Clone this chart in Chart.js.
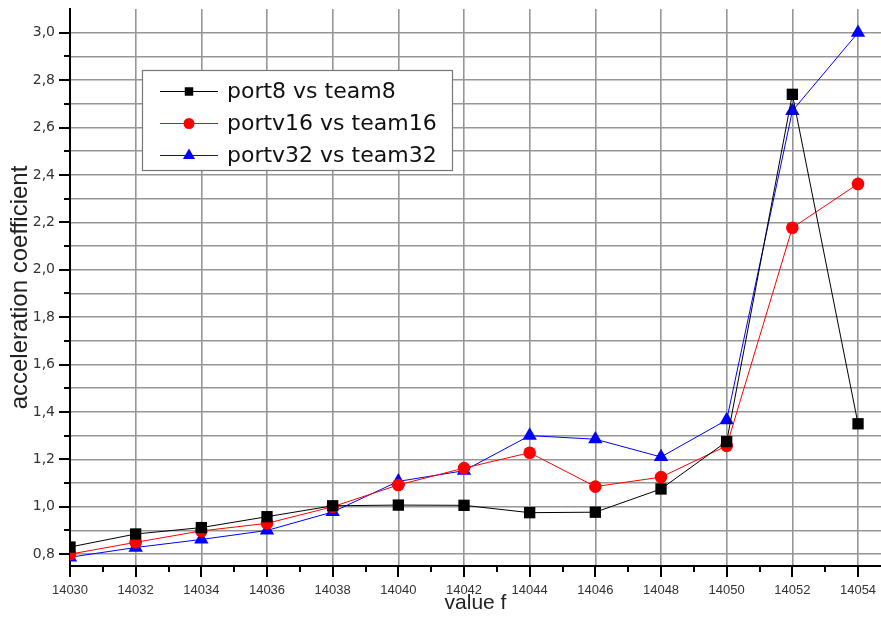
<!DOCTYPE html>
<html>
<head>
<meta charset="utf-8">
<script src="https://cdn.jsdelivr.net/npm/chart.js@4/dist/chart.umd.min.js"></script>
<style>
    html, body { margin: 0; padding: 0; background: #fff; }
    #wrap { width: 881px; height: 625px; }
</style>
</head>
<body>
<div id="wrap"><canvas id="chart"></canvas></div>
<script>
// values
const valueF = [14030, 14032, 14034, 14036, 14038, 14040, 14042, 14044, 14046, 14048, 14050, 14052, 14054];
const port8 = [0.83, 0.885, 0.912, 0.958, 1.004, 1.007, 1.006, 0.975, 0.977, 1.075, 1.275, 2.74, 1.35];
const portv16 = [0.80, 0.85, 0.898, 0.93, 1.0, 1.092, 1.163, 1.228, 1.085, 1.125, 1.257, 2.177, 2.362];
const portv32 = [0.787, 0.828, 0.862, 0.90, 0.978, 1.107, 1.152, 1.30, 1.285, 1.21, 1.366, 2.67, 3.0];
const seriesNames = ['port8 vs team8', 'portv16 vs team16', 'portv32 vs team32'];
const yTicks = [0.8, 0.9, 1.0, 1.1, 1.2, 1.3, 1.4, 1.5, 1.6, 1.7, 1.8, 1.9, 2.0,
                2.1, 2.2, 2.3, 2.4, 2.5, 2.6, 2.7, 2.8, 2.9, 3.0];

Chart.defaults.font.family = '"Liberation Sans", Arial, sans-serif';

const isMajorY = v => Math.round(v * 10) % 2 === 0;
const isMajorX = v => Math.round(v) % 2 === 0;

const toPoints = arr => arr.map((y, i) => ({ x: valueF[i], y }));

const styles = [
    { color: '#000000', pointStyle: 'rect', radius: 8, legendRadius: 6 },
    { color: '#ff0000', pointStyle: 'circle', radius: 6.3, legendRadius: 5.5 },
    { color: '#0000ff', pointStyle: 'triangle', radius: 8.3, legendRadius: 7 }
];

const datasets = [port8, portv16, portv32].map((arr, i) => ({
    label: seriesNames[i],
    data: toPoints(arr),
    borderColor: styles[i].color,
    backgroundColor: styles[i].color,
    borderWidth: 1,
    pointStyle: styles[i].pointStyle,
    pointRadius: styles[i].radius,
    pointHoverRadius: styles[i].radius,
    pointBorderWidth: 0,
    tension: 0,
    clip: { left: 0, top: 12, right: 12, bottom: 12 }
}));

// tick marks: long at labelled ticks, short in between
const tickMarks = {
    id: 'tickMarks',
    afterDraw(chart) {
        const ctx = chart.ctx;
        const xs = chart.scales.x, ys = chart.scales.y;
        ctx.save();
        ctx.strokeStyle = '#000';
        ctx.lineWidth = 2;
        ctx.beginPath();
        ys.ticks.forEach(t => {
            const y = Math.round(ys.getPixelForValue(t.value));
            const len = isMajorY(t.value) ? 11 : 6;
            ctx.moveTo(xs.left - len, y);
            ctx.lineTo(xs.left, y);
        });
        xs.ticks.forEach(t => {
            const x = Math.round(xs.getPixelForValue(t.value));
            const len = isMajorX(t.value) ? 11 : 6;
            ctx.moveTo(x, ys.bottom);
            ctx.lineTo(x, ys.bottom + len);
        });
        ctx.stroke();
        ctx.restore();
    }
};

// boxed legend inside the plot, line sample with marker
const boxLegend = {
    id: 'boxLegend',
    afterDatasetsDraw(chart) {
        const ctx = chart.ctx;
        const box = { x: 142, y: 70, w: 310, h: 100 };
        ctx.save();
        ctx.fillStyle = '#fff';
        ctx.fillRect(box.x, box.y, box.w, box.h);
        ctx.strokeStyle = '#777';
        ctx.lineWidth = 1.2;
        ctx.strokeRect(box.x + 0.5, box.y + 0.5, box.w, box.h);
        ctx.font = '22px "DejaVu Sans", sans-serif';
        ctx.textBaseline = 'middle';
        chart.data.datasets.forEach((ds, i) => {
            const st = styles[i];
            const y = 91.5 + i * 32;
            ctx.strokeStyle = st.color;
            ctx.lineWidth = 1;
            ctx.beginPath();
            ctx.moveTo(160, y);
            ctx.lineTo(218, y);
            ctx.stroke();
            ctx.fillStyle = st.color;
            Chart.helpers.drawPoint(ctx, {
                pointStyle: st.pointStyle, radius: st.legendRadius, rotation: 0, borderWidth: 0
            }, 189, y);
            ctx.fillStyle = '#111';
            ctx.fillText(ds.label, 227, y + 1);
        });
        ctx.restore();
    }
};

new Chart(document.getElementById('chart'), {
    type: 'line',
    data: { datasets },
    options: {
        responsive: true,
        maintainAspectRatio: false,
        animation: false,
        layout: { autoPadding: false, padding: { top: 9, right: 0, bottom: 0, left: 0 } },
        plugins: {
            legend: { display: false },
            tooltip: { enabled: false }
        },
        scales: {
            x: {
                type: 'linear',
                min: 14030,
                max: 14054.7,
                afterFit: s => {
                    s.height = 59;
                    s.paddingLeft = 0;
                    s.paddingRight = 0;
                },
                ticks: {
                    stepSize: 1,
                    autoSkip: false,
                    maxRotation: 0,
                    includeBounds: false,
                    padding: 17,
                    color: '#333',
                    font: { size: 13 },
                    callback: v => isMajorX(v) ? String(v) : ''
                },
                grid: {
                    drawTicks: false,
                    color: c => (c.tick && isMajorX(c.tick.value)) ? '#969696' : 'rgba(0,0,0,0)',
                    lineWidth: 1.6
                },
                border: { color: '#000', width: 2 },
                title: {
                    display: true,
                    text: 'value f',
                    color: '#222',
                    font: { size: 21 },
                    padding: { top: 0, bottom: 9 }
                }
            },
            y: {
                min: 0.75,
                max: 3.1,
                afterFit: s => {
                    s.width = 70;
                    s.paddingTop = 0;
                    s.paddingBottom = 0;
                },
                afterBuildTicks: s => { s.ticks = yTicks.map(v => ({ value: v })); },
                ticks: {
                    autoSkip: false,
                    padding: 15,
                    color: '#333',
                    font: { size: 14, family: '"DejaVu Sans", sans-serif' },
                    callback: v => isMajorY(v) ? v.toFixed(1).replace('.', ',') : ''
                },
                grid: {
                    drawTicks: false,
                    color: '#969696',
                    lineWidth: 1.6
                },
                border: { color: '#000', width: 2 },
                title: {
                    display: true,
                    text: 'acceleration coefficient',
                    color: '#222',
                    font: { size: 24 },
                    padding: { top: 6, bottom: 0 }
                }
            }
        }
    },
    plugins: [tickMarks, boxLegend]
});
</script>
</body>
</html>
